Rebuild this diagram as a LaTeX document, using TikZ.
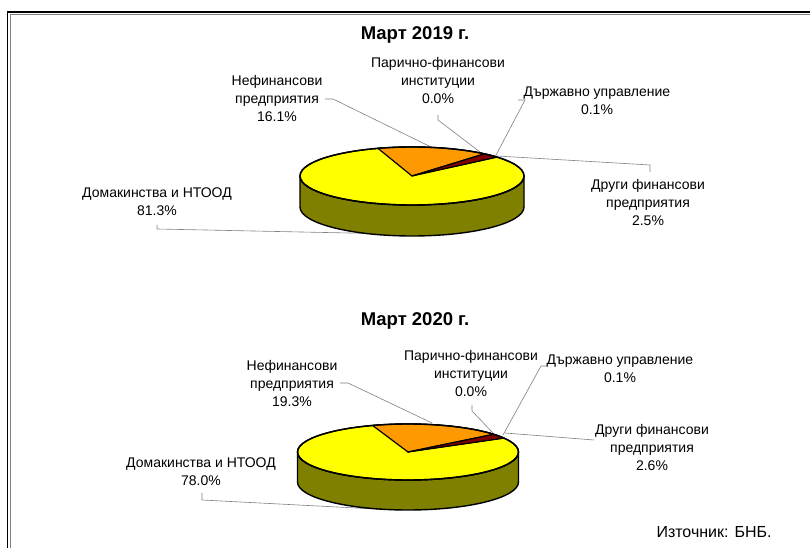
\documentclass[tikz,border=0pt]{standalone}
\usepackage{fontspec}
\setmainfont{Liberation Sans}
\definecolor{pieyellow}{HTML}{FFFF00}
\definecolor{pieorange}{HTML}{FF9900}
\definecolor{piered}{HTML}{800000}
\definecolor{pieolive}{HTML}{808000}
\definecolor{leadgray}{HTML}{808080}
% cx cy rx ry depth a1 a2 a3 a4
\newcommand\mypie[9]{%
 \filldraw[fill=pieolive,line width=1.4pt,line join=round] (#1-#3,#2) arc[start angle=180,end angle=360,x radius=#3pt,y radius=#4pt] -- ++(0,-#5) arc[start angle=360,end angle=180,x radius=#3pt,y radius=#4pt] -- cycle;
 \filldraw[fill=pieyellow,line width=1.4pt] (#1,#2) ellipse[x radius=#3pt,y radius=#4pt];
 \filldraw[fill=pieorange,line width=1.2pt,line join=round] (#1,#2) -- ([shift={(#1,#2)}]#6:#3pt and #4pt) arc[start angle=#6,end angle=#7,x radius=#3pt,y radius=#4pt] -- cycle;
 \filldraw[fill=piered,line width=1.2pt,line join=round] (#1,#2) -- ([shift={(#1,#2)}]#7:#3pt and #4pt) arc[start angle=#7,end angle=#8,x radius=#3pt,y radius=#4pt] -- cycle;
 \filldraw[fill=piered,line width=0.6pt,line join=round] (#1,#2) -- ([shift={(#1,#2)}]#8:#3pt and #4pt) arc[start angle=#8,end angle=#9,x radius=#3pt,y radius=#4pt] -- cycle;
 \draw[line width=1.4pt] (#1,#2) ellipse[x radius=#3pt,y radius=#4pt];
}
\tikzset{
  lbl/.style={align=center,inner sep=0pt,font=\fontsize{14}{18}\selectfont},
  ttl/.style={inner sep=0pt,font=\fontsize{18.5}{21}\selectfont\bfseries},
  lead/.style={draw=leadgray,line width=0.6pt},
}
\begin{document}
\begin{tikzpicture}[x=1pt,y=1pt]
\useasboundingbox (0,0) rectangle (810,548);
\fill[white] (0,0) rectangle (810,548);
% frame
\draw[line width=1.8pt] (7.5,-10) -- (7.5,536) -- (830,536);
\draw[leadgray,line width=0.6pt] (9.8,-10) -- (9.8,534) -- (830,534);

% titles
\node[ttl] (t1) at (415,513) {Март 2019 г.};
\node[ttl] (t2) at (415,227) {Март 2020 г.};

% ---------- 2019 labels ----------
\node[lbl] (n1) at (277,449) {Нефинансови\\предприятия\\16.1\%};
\node[lbl] (p1) at (438,467) {Парично-финансови\\институции\\0.0\%};
\node[lbl] (d1) at (597,447) {Държавно управление\\0.1\%};
\node[lbl] (o1) at (648,345) {Други финансови\\предприятия\\2.5\%};
\node[lbl] (h1) at (157,346) {Домакинства и НТООД\\81.3\%};

\coordinate (n1a) at (325,449); \coordinate (n1b) at (333,449); \coordinate (n1c) at (433,400);
\coordinate (p1a) at (438,433); \coordinate (p1b) at (438,428); \coordinate (p1c) at (480,396);
\coordinate (d1a) at (518,448); \coordinate (d1b) at (525,448); \coordinate (d1c) at (495,391);
\coordinate (o1a) at (497,392); \coordinate (o1b) at (650,383); \coordinate (o1c) at (650,376);
\coordinate (h1a) at (157,323); \coordinate (h1b) at (157,319); \coordinate (h1c) at (397,314);
\draw[lead] (n1a) -- (n1b) -- (n1c);
\draw[lead] (p1a) -- (p1b) -- (p1c);
\draw[lead] (d1a) -- (d1b) -- (d1c);
\draw[lead] (o1a) -- (o1b) -- (o1c);
\draw[lead] (h1a) -- (h1b) -- (h1c);

\mypie{412}{372}{112}{29}{31}{107.7}{49.7}{40.7}{40.3}

% ---------- 2020 labels ----------
\node[lbl] (n2) at (292,165) {Нефинансови\\предприятия\\19.3\%};
\node[lbl] (p2) at (471,175) {Парично-финансови\\институции\\0.0\%};
\node[lbl] (d2) at (620,179) {Държавно управление\\0.1\%};
\node[lbl] (o2) at (652,101) {Други финансови\\предприятия\\2.6\%};
\node[lbl] (h2) at (201,76) {Домакинства и НТООД\\78.0\%};

\coordinate (n2a) at (340,165); \coordinate (n2b) at (348,165); \coordinate (n2c) at (432,125);
\coordinate (p2a) at (472,143); \coordinate (p2b) at (472,137); \coordinate (p2c) at (493,115);
\coordinate (d2a) at (548,182); \coordinate (d2b) at (541,182); \coordinate (d2c) at (503,113);
\coordinate (o2a) at (505,115); \coordinate (o2b) at (594,108);
\coordinate (h2a) at (202,55); \coordinate (h2b) at (202,48); \coordinate (h2c) at (395,38);
\draw[lead] (n2a) -- (n2b) -- (n2c);
\draw[lead] (p2a) -- (p2b) -- (p2c);
\draw[lead] (d2a) -- (d2b) -- (d2c);
\draw[lead] (o2a) -- (o2b);
\draw[lead] (h2a) -- (h2b) -- (h2c);

\mypie{408}{96}{110.5}{28}{30}{108.7}{39.2}{29.8}{29.4}

% source
\node[inner sep=0pt,font=\fontsize{16}{18}\selectfont] (src) at (714,16) {Източник: БНБ.};
\end{tikzpicture}
\end{document}
